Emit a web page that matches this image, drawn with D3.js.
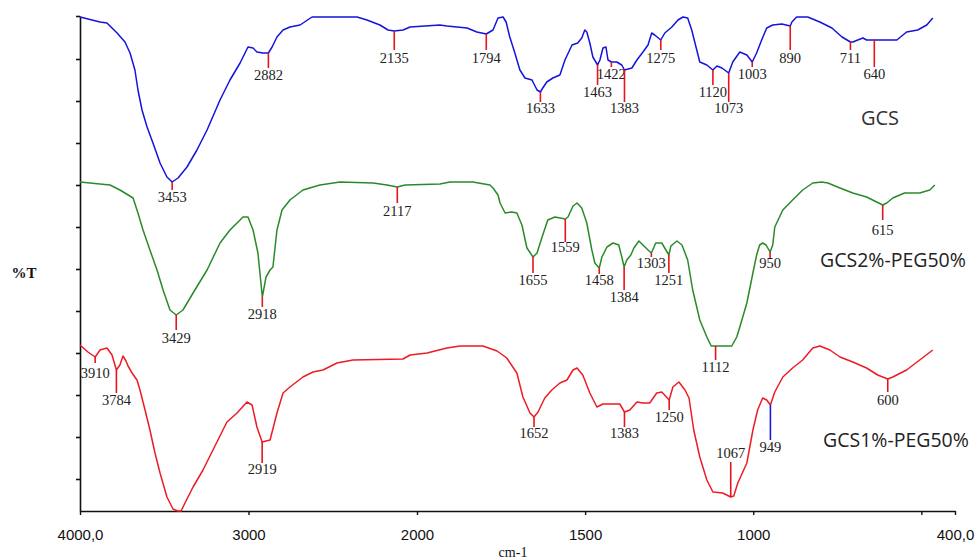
<!DOCTYPE html>
<html><head><meta charset="utf-8">
<script src="https://cdn.jsdelivr.net/npm/d3@7"></script>
<style>body{margin:0;background:#fff}</style>
</head><body>
<svg id="c" width="977" height="560"></svg>
<script>
// ---- data ----
const xTickValues = [4000, 3000, 2000, 1500, 1000, 500, 400];
const xTickLabels = ["4000,0", "3000", "2000", "1500", "1000", "", "400,0"];
const yTickValues = [32, 74, 116, 158, 200, 242, 284, 326, 368, 410, 452, 495];
const seriesNames = ["GCS", "GCS2%-PEG50%", "GCS1%-PEG50%"];

// [wavenumber cm-1, %T (arbitrary offset units)]
const gcs = [[4000,494],[3881,489],[3840,488],[3780,478],[3733,469],[3703,458],[3674,441],[3656,421],[3632,401],[3602,384],[3567,368],[3525,348],[3484,334],[3453,329],[3418,333],[3365,344],[3306,361],[3246,381],[3169,411],[3110,431],[3050,448],[3003,464],[2973,463],[2950,459],[2914,458],[2882,458],[2860,464],[2831,474],[2795,481],[2754,484],[2694,486],[2623,494],[2356,494],[2297,491],[2220,486],[2172,481],[2135,480],[2083,481],[2041,484],[1932,486],[1911,485],[1851,483],[1822,479],[1794,477],[1774,481],[1759,493],[1744,494],[1735,489],[1724,474],[1709,458],[1694,441],[1679,433],[1658,431],[1643,421],[1633,419],[1626,423],[1614,429],[1596,433],[1575,436],[1560,451],[1539,466],[1522,468],[1510,473],[1501,481],[1495,479],[1486,468],[1477,454],[1463,446],[1456,451],[1447,463],[1438,464],[1432,451],[1422,449],[1406,449],[1391,446],[1383,441],[1361,443],[1346,451],[1328,459],[1313,466],[1302,478],[1293,476],[1275,471],[1263,478],[1242,484],[1224,491],[1209,494],[1195,493],[1183,481],[1168,461],[1159,449],[1138,446],[1120,441],[1108,445],[1093,443],[1073,438],[1061,449],[1040,459],[1019,456],[1003,449],[990,458],[975,471],[960,483],[942,486],[915,487],[890,485],[885,489],[871,494],[838,494],[802,489],[766,483],[736,474],[711,469],[704,469],[674,473],[663,471],[640,471],[573,471],[544,479],[511,481],[484,486],[466,493]];

const gcs2 = [[4000,329],[3822,326],[3763,321],[3685,313],[3656,298],[3626,281],[3585,261],[3543,241],[3507,221],[3466,201],[3429,196],[3389,201],[3329,218],[3246,241],[3169,268],[3110,281],[3050,291],[3033,294],[3003,294],[2973,281],[2944,258],[2928,231],[2918,214],[2896,234],[2872,241],[2855,244],[2831,281],[2801,301],[2754,311],[2677,321],[2576,326],[2457,329],[2261,328],[2178,326],[2117,324],[2071,326],[1932,327],[1902,329],[1834,329],[1783,326],[1774,323],[1759,316],[1753,308],[1738,298],[1718,299],[1703,298],[1688,286],[1673,263],[1655,254],[1643,258],[1628,274],[1611,291],[1590,294],[1559,292],[1551,294],[1536,305],[1524,308],[1510,303],[1495,288],[1480,261],[1471,248],[1458,243],[1450,254],[1435,264],[1417,268],[1400,266],[1391,254],[1384,244],[1376,251],[1364,256],[1355,263],[1340,270],[1328,266],[1313,261],[1303,258],[1290,268],[1272,268],[1251,256],[1245,265],[1227,270],[1212,266],[1195,251],[1180,221],[1159,191],[1138,174],[1125,165],[1112,165],[1064,165],[1049,174],[1040,184],[1019,208],[1001,238],[990,256],[981,266],[972,268],[962,266],[950,259],[942,266],[936,284],[912,301],[883,311],[853,321],[823,328],[796,329],[778,328],[742,323],[704,318],[663,314],[633,309],[615,306],[603,308],[585,313],[550,318],[505,318],[475,321],[460,326]];

const gcs1 = [[4000,166],[3953,159],[3910,154],[3881,161],[3840,163],[3810,156],[3784,141],[3763,146],[3745,155],[3727,150],[3715,145],[3691,138],[3662,131],[3644,121],[3614,101],[3585,81],[3555,58],[3525,38],[3484,14],[3448,2],[3420,0],[3400,0],[3377,8],[3329,24],[3270,41],[3211,61],[3128,89],[3068,98],[3009,109],[2979,106],[2950,84],[2919,69],[2872,71],[2831,98],[2795,118],[2754,124],[2677,134],[2617,139],[2558,141],[2475,148],[2380,151],[2083,152],[2041,156],[1970,158],[1911,163],[1872,165],[1804,165],[1762,160],[1733,153],[1703,138],[1685,114],[1664,98],[1652,94],[1640,99],[1620,113],[1599,121],[1575,128],[1554,131],[1536,141],[1524,143],[1507,136],[1486,118],[1465,104],[1447,107],[1397,107],[1383,99],[1367,101],[1346,109],[1328,108],[1308,108],[1287,118],[1272,119],[1250,111],[1239,124],[1221,129],[1203,121],[1191,113],[1177,81],[1159,54],[1138,31],[1120,19],[1091,18],[1067,14],[1058,15],[1046,28],[1019,48],[1001,81],[987,101],[972,113],[960,111],[949,106],[936,119],[912,134],[883,143],[853,151],[823,163],[802,165],[772,161],[742,154],[704,149],[663,143],[630,136],[600,132],[585,134],[544,141],[505,151],[466,161]];

// peak annotations: wavenumber, end of the marker stem, label level (same %T units)
const gcsPeaks = [3453,2882,2135,1794,1633,1463,1422,1383,1275,1120,1073,1003,890,711,640];
const gcsStemEnd = [321,443,461,461,409,426,444,409,461,426,409,444,461,461,444];
const gcsLabelAt = [314,436,453,453,403,419,437,403,453,419,403,437,453,453,437];

const gcs2Peaks = [3429,2918,2117,1655,1559,1458,1384,1303,1251,1112,950,615];
const gcs2StemEnd = [181,204,308,238,269,237,221,254,238,151,253,291];
const gcs2LabelAt = [173,197,300,231,264,231,214,248,231,144,248,281];

const gcs1Peaks = [3910,3784,2919,1652,1383,1250,1067,949,600];
const gcs1StemEnd = [148,118,48,84,84,101,49,71,119];
const gcs1LabelAt = [138,111,42,78,78,94,58,64,111];

// ---- drawing ----
const svg = d3.select("#c");
const x = d3.scaleLinear().domain([4000, 2000, 400]).range([80, 417, 955]);
const y = d3.scaleLinear().domain([0, 495]).range([511, 16]);

const colors = ["#1414dc", "#2a8a2a", "#ec1c24"];
const stemColor = "#e8141c";
const highlightStem = "#1a1ae0";

function valueAt(series, wn) {
  for (let i = 0; i < series.length - 1; i++) {
    const a = series[i], b = series[i + 1];
    if (wn <= a[0] && wn >= b[0]) {
      const t = (a[0] - wn) / (a[0] - b[0] || 1);
      return a[1] + t * (b[1] - a[1]);
    }
  }
  return series[series.length - 1][1];
}

// axes
const xAxis = d3.axisBottom(x).tickValues(xTickValues)
  .tickFormat((d, i) => xTickLabels[i]).tickSize(4).tickSizeOuter(0).tickPadding(14);
const gx = svg.append("g").attr("transform", "translate(0,511)").call(xAxis);
gx.select(".domain").attr("stroke", "#111").attr("stroke-width", 1.6);
gx.selectAll(".tick line").attr("stroke", "#111").attr("stroke-width", 1.4);
gx.selectAll(".tick text").attr("font-family", "Liberation Sans, Arial, sans-serif")
  .attr("font-size", 15).attr("fill", "#111");

const yAxis = d3.axisLeft(y).tickValues(yTickValues).tickFormat("").tickSize(4).tickSizeOuter(0);
const gy = svg.append("g").attr("transform", "translate(80,0)").call(yAxis);
gy.select(".domain").attr("stroke", "#111").attr("stroke-width", 1.6);
gy.selectAll(".tick line").attr("stroke", "#111").attr("stroke-width", 1.6);

svg.append("text").attr("x", 24).attr("y", 273).attr("dy", "0.35em")
  .attr("text-anchor", "middle").attr("font-family", "Liberation Serif, serif")
  .attr("font-size", 15).attr("font-weight", "bold").attr("fill", "#111").text("%T");
svg.append("text").attr("x", 513).attr("y", 552).attr("dy", "0.35em")
  .attr("text-anchor", "middle").attr("font-family", "Liberation Serif, serif")
  .attr("font-size", 14).attr("fill", "#111").text("cm-1");

// curves
const line = d3.line().x(d => x(d[0])).y(d => y(d[1]));
const allSeries = [gcs, gcs2, gcs1];
allSeries.forEach((s, i) => {
  svg.append("path").datum(s).attr("d", line).attr("fill", "none")
    .attr("stroke", colors[i]).attr("stroke-width", 1.5).attr("stroke-linejoin", "round");
});

// peak markers
function drawPeaks(series, peaks, stemEnds, labels) {
  const g = svg.append("g");
  peaks.forEach((wn, i) => {
    const v = valueAt(series, wn);
    g.append("line").attr("x1", x(wn)).attr("x2", x(wn))
      .attr("y1", y(v)).attr("y2", y(stemEnds[i]))
      .attr("stroke", wn === 949 && series === gcs1 ? highlightStem : stemColor)
      .attr("stroke-width", 1.6);
    g.append("text").attr("x", x(wn)).attr("y", y(labels[i])).attr("dy", "0.35em")
      .attr("text-anchor", "middle").attr("font-family", "Liberation Serif, serif")
      .attr("font-size", 14.5).attr("fill", "#222").text(String(wn));
  });
}
drawPeaks(gcs, gcsPeaks, gcsStemEnd, gcsLabelAt);
drawPeaks(gcs2, gcs2Peaks, gcs2StemEnd, gcs2LabelAt);
drawPeaks(gcs1, gcs1Peaks, gcs1StemEnd, gcs1LabelAt);

// series names
const nameFont = "Open Sans, Noto Sans, sans-serif";
svg.append("text").attr("x", 880).attr("y", 118).attr("dy", "0.35em").attr("text-anchor", "middle")
  .attr("font-family", nameFont).attr("font-size", 20).attr("fill", "#333").text(seriesNames[0]);
svg.append("text").attr("x", 820).attr("y", 260).attr("dy", "0.35em").attr("text-anchor", "start")
  .attr("font-family", nameFont).attr("font-size", 19.5).attr("fill", "#222").text(seriesNames[1]);
svg.append("text").attr("x", 823).attr("y", 440).attr("dy", "0.35em").attr("text-anchor", "start")
  .attr("font-family", nameFont).attr("font-size", 19.5).attr("fill", "#222").text(seriesNames[2]);
</script>
</body></html>
